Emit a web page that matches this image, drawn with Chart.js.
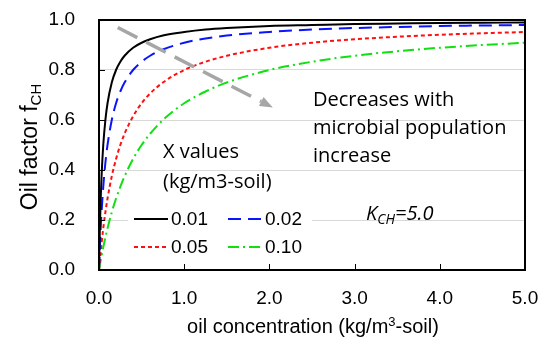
<!DOCTYPE html>
<html>
<head>
<meta charset="utf-8">
<script src="https://cdn.jsdelivr.net/npm/chart.js@4.4.1/dist/chart.umd.min.js"></script>
<style>
  body { margin: 0; background: #fff; }
  #wrap { width: 539px; height: 341px; }
</style>
</head>
<body>
<div id="wrap"><canvas id="oilFactor" width="539" height="341"></canvas></div>
<script>
// Data
const conc = [0, 0.005, 0.01, 0.02, 0.03, 0.05, 0.075, 0.1, 0.15, 0.2, 0.25, 0.3, 0.4, 0.5, 0.6, 0.75, 1, 1.25, 1.5, 2, 2.5, 3, 3.5, 4, 4.5, 5];
const x001 = [0, 0.091, 0.167, 0.286, 0.375, 0.5, 0.6, 0.667, 0.75, 0.8, 0.833, 0.857, 0.889, 0.909, 0.923, 0.938, 0.952, 0.962, 0.968, 0.976, 0.98, 0.984, 0.986, 0.988, 0.989, 0.99];
const x002 = [0, 0.048, 0.091, 0.167, 0.231, 0.333, 0.429, 0.5, 0.6, 0.667, 0.714, 0.75, 0.8, 0.833, 0.857, 0.882, 0.909, 0.926, 0.938, 0.952, 0.962, 0.968, 0.972, 0.976, 0.978, 0.98];
const x005 = [0, 0.02, 0.038, 0.074, 0.107, 0.167, 0.231, 0.286, 0.375, 0.444, 0.5, 0.545, 0.615, 0.667, 0.706, 0.75, 0.8, 0.833, 0.857, 0.889, 0.909, 0.923, 0.933, 0.941, 0.947, 0.952];
const x010 = [0, 0.01, 0.02, 0.038, 0.057, 0.091, 0.13, 0.167, 0.231, 0.286, 0.333, 0.375, 0.444, 0.5, 0.545, 0.6, 0.667, 0.714, 0.75, 0.8, 0.833, 0.857, 0.875, 0.889, 0.9, 0.909];
const seriesLabels = ['0.01', '0.02', '0.05', '0.10'];
const xTicks = [0, 1, 2, 3, 4, 5];
const yTicks = [0, 0.2, 0.4, 0.6, 0.8, 1.0];

// arrow (data units): start -> end
const arrowFrom = [0.22, 0.97];
const arrowTo = [2.04, 0.65];

function pts(ys) {
    return conc.map((c, i) => ({ x: c, y: ys[i] }));
}

const styles = [
    { color: '#000000', dash: [] },
    { color: '#0a14ff', dash: [13, 7] },
    { color: '#ff1010', dash: [4, 3] },
    { color: '#10e010', dash: [11, 4, 2, 4] },
];
const allSeries = [x001, x002, x005, x010];

const datasets = allSeries.map((s, i) => ({
    label: seriesLabels[i],
    data: pts(s),
    borderColor: styles[i].color,
    borderDash: styles[i].dash,
    borderWidth: 2,
    pointRadius: 0,
    fill: false,
    cubicInterpolationMode: 'monotone',
}));

const FONT = '"Liberation Sans", Arial, sans-serif';
const NOTE = '"Open Sans", sans-serif';

const decorations = {
    id: 'decorations',
    beforeDatasetsDraw(chart) {
        const ctx = chart.ctx;
        // white box behind the legend hides the gridline
        ctx.save();
        ctx.fillStyle = '#fff';
        ctx.fillRect(128, 203, 184, 58);
        ctx.restore();
    },
    afterDatasetsDraw(chart) {
        const ctx = chart.ctx;
        const a = chart.chartArea;
        const xs = chart.scales.x;
        const ys = chart.scales.y;
        ctx.save();

        // inward ticks
        ctx.strokeStyle = '#000';
        ctx.lineWidth = 1;
        ctx.beginPath();
        xTicks.forEach(t => {
            const px = Math.round(xs.getPixelForValue(t)) + 0.5;
            ctx.moveTo(px, a.bottom);
            ctx.lineTo(px, a.bottom - 6);
        });
        yTicks.forEach(t => {
            const py = Math.round(ys.getPixelForValue(t)) + 0.5;
            ctx.moveTo(a.left, py);
            ctx.lineTo(a.left + 6, py);
        });
        ctx.stroke();

        // frame
        ctx.lineWidth = 2;
        ctx.strokeRect(a.left, a.top, a.right - a.left, a.bottom - a.top);

        // arrow
        const x1 = xs.getPixelForValue(arrowFrom[0]), y1 = ys.getPixelForValue(arrowFrom[1]);
        const x2 = xs.getPixelForValue(arrowTo[0]), y2 = ys.getPixelForValue(arrowTo[1]);
        const ang = Math.atan2(y2 - y1, x2 - x1);
        const head = 13;
        ctx.strokeStyle = '#a6a6a6';
        ctx.fillStyle = '#a6a6a6';
        ctx.lineWidth = 3.5;
        ctx.setLineDash([22, 10]);
        ctx.beginPath();
        ctx.moveTo(x1, y1);
        ctx.lineTo(x2 - head * Math.cos(ang), y2 - head * Math.sin(ang));
        ctx.stroke();
        ctx.setLineDash([]);
        ctx.beginPath();
        ctx.moveTo(x2, y2);
        ctx.lineTo(x2 - head * Math.cos(ang) + 5 * Math.sin(ang), y2 - head * Math.sin(ang) - 5 * Math.cos(ang));
        ctx.lineTo(x2 - head * Math.cos(ang) - 5 * Math.sin(ang), y2 - head * Math.sin(ang) + 5 * Math.cos(ang));
        ctx.closePath();
        ctx.fill();

        // notes
        ctx.fillStyle = '#000';
        ctx.textAlign = 'left';
        ctx.textBaseline = 'alphabetic';
        ctx.font = '20px ' + NOTE;
        ctx.fillText('Decreases with', 313, 106);
        ctx.fillText('microbial population', 313, 134);
        ctx.fillText('increase', 313, 162);
        ctx.fillText('X values', 163, 158);
        ctx.fillText('(kg/m3-soil)', 163, 188);

        // K_CH=5.0
        ctx.font = 'italic 20px ' + NOTE;
        ctx.fillText('K', 366, 220);
        let kx = 366 + ctx.measureText('K').width;
        ctx.font = 'italic 14px ' + NOTE;
        ctx.fillText('CH', kx, 224);
        kx += ctx.measureText('CH').width;
        ctx.font = 'italic 20px ' + NOTE;
        ctx.fillText('=5.0', kx, 220);

        // legend, two columns
        const cols = [134, 228];
        const rows = [219, 247];
        ctx.font = '19px ' + FONT;
        ctx.textBaseline = 'middle';
        chart.data.datasets.forEach((ds, i) => {
            const lx = cols[i % 2], ly = rows[Math.floor(i / 2)];
            ctx.strokeStyle = ds.borderColor;
            ctx.lineWidth = 2;
            ctx.setLineDash(ds.borderDash);
            ctx.beginPath();
            ctx.moveTo(lx, ly);
            ctx.lineTo(lx + 34, ly);
            ctx.stroke();
            ctx.setLineDash([]);
            ctx.fillStyle = '#000';
            ctx.fillText(ds.label, lx + 37, ly + 1);
        });

        // x title with superscript
        ctx.textBaseline = 'alphabetic';
        const p1 = 'oil concentration (kg/m', p2 = '3', p3 = '-soil)';
        ctx.font = '20px ' + FONT;
        const w1 = ctx.measureText(p1).width, w3 = ctx.measureText(p3).width;
        ctx.font = '13px ' + FONT;
        const w2 = ctx.measureText(p2).width;
        let tx = 313 - (w1 + w2 + w3) / 2;
        ctx.font = '20px ' + FONT;
        ctx.fillText(p1, tx, 333);
        tx += w1;
        ctx.font = '13px ' + FONT;
        ctx.fillText(p2, tx, 326);
        tx += w2;
        ctx.font = '20px ' + FONT;
        ctx.fillText(p3, tx, 333);

        // y title with subscript
        ctx.translate(37, 147);
        ctx.rotate(-Math.PI / 2);
        const q1 = 'Oil factor f', q2 = 'CH';
        ctx.font = '23px ' + FONT;
        const v1 = ctx.measureText(q1).width;
        ctx.font = '15px ' + FONT;
        const v2 = ctx.measureText(q2).width;
        let ty = -(v1 + v2) / 2;
        ctx.font = '23px ' + FONT;
        ctx.fillText(q1, ty, 0);
        ctx.font = '15px ' + FONT;
        ctx.fillText(q2, ty + v1, 4);

        ctx.restore();
    },
};

const chart = new Chart(document.getElementById('oilFactor'), {
    type: 'line',
    data: { datasets },
    options: {
        responsive: false,
        animation: false,
        layout: { padding: { left: 0, right: 14, top: 20, bottom: 0 } },
        plugins: { legend: { display: false }, tooltip: { enabled: false } },
        scales: {
            x: {
                type: 'linear',
                min: 0,
                max: 5,
                afterFit(scale) {
                    scale.height = 71;
                    scale.paddingLeft = 0;
                    scale.paddingRight = 0;
                },
                afterBuildTicks(scale) { scale.ticks = xTicks.map(v => ({ value: v })); },
                grid: { display: false, drawTicks: false },
                border: { display: false },
                ticks: {
                    padding: 17,
                    color: '#000',
                    font: { family: FONT, size: 19 },
                    callback: v => v.toFixed(1),
                    maxRotation: 0,
                },
            },
            y: {
                min: 0,
                max: 1,
                afterFit(scale) {
                    scale.width = 99;
                    scale.paddingTop = 0;
                    scale.paddingBottom = 0;
                },
                afterBuildTicks(scale) { scale.ticks = yTicks.map(v => ({ value: v })); },
                grid: { color: '#d9d9d9', lineWidth: 1, drawTicks: false },
                border: { display: false },
                ticks: {
                    padding: 24,
                    color: '#000',
                    font: { family: FONT, size: 19 },
                    callback: v => v.toFixed(1),
                },
            },
        },
    },
    plugins: [decorations],
});
</script>
</body>
</html>
